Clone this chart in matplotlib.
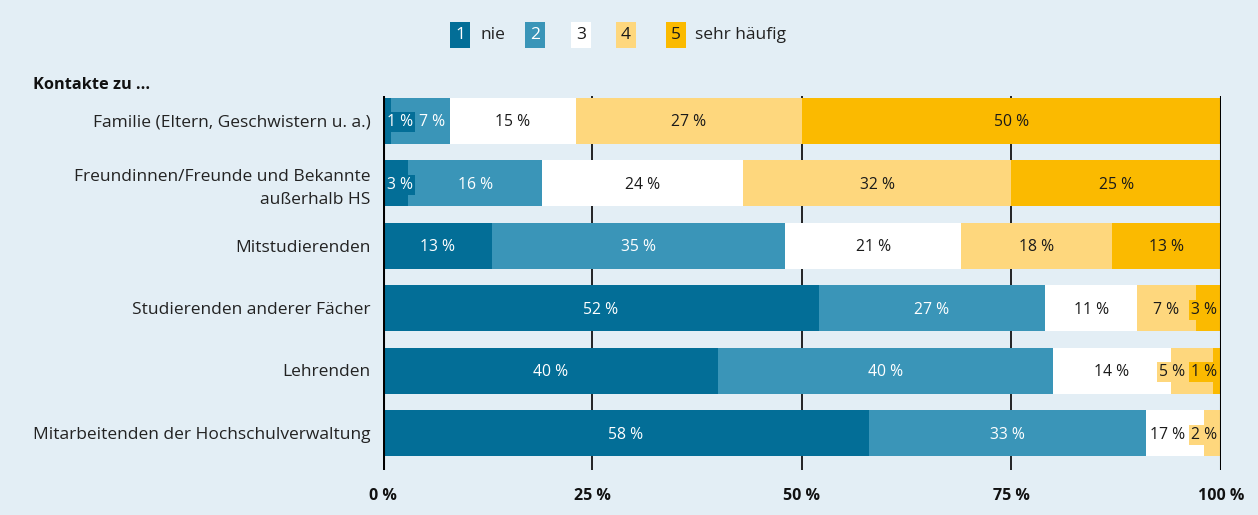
import matplotlib
matplotlib.use("Agg")
import matplotlib.pyplot as plt
import numpy as np

categories = [
    "Familie (Eltern, Geschwistern u. a.)",
    "Freundinnen/Freunde und Bekannte\naußerhalb HS",
    "Mitstudierenden",
    "Studierenden anderer Fächer",
    "Lehrenden",
    "Mitarbeitenden der Hochschulverwaltung",
]
s1 = [1, 3, 13, 52, 40, 58]
s2 = [7, 16, 35, 27, 40, 33]
s3 = [15, 24, 21, 11, 14, 7]
s4 = [27, 32, 18, 7, 5, 2]
s5 = [50, 25, 13, 3, 1, 0]
# label texts as printed in the original (one label differs from its bar width)
l3_text = ["15 %", "24 %", "21 %", "11 %", "14 %", "17 %"]
legend_codes = ["1", "2", "3", "4", "5"]
legend_words = {"1": "nie", "5": "sehr häufig"}
xticks = [0, 25, 50, 75, 100]
xticklabels = ["0 %", "25 %", "50 %", "75 %", "100 %"]

colors = ["#036e97", "#3a95b8", "#ffffff", "#fed77d", "#fbba00"]
txtcol = ["white", "white", "#1a1a1a", "#1a1a1a", "#1a1a1a"]
bg = "#e3eef5"

plt.rcParams['font.family'] = ['Open Sans', 'DejaVu Sans']

fig = plt.figure(figsize=(12.58, 5.15), dpi=100, facecolor=bg)
ax = fig.add_axes([383/1258, 1-470/515, (1221-383)/1258, (470-96)/515])
ax.set_facecolor(bg)

series = [s1, s2, s3, s4, s5]
n = len(categories)
ypos = np.arange(n)
left = np.zeros(n)
lefts = []
for k, s in enumerate(series):
    ax.barh(ypos, s, left=left, height=0.736, color=colors[k], zorder=2, linewidth=0)
    lefts.append(left.copy())
    left = left + np.array(s)

ax.set_xlim(0, 100)
ax.set_ylim(5.592, -0.392)
for x in [25, 50, 75]:
    ax.axvline(x, color="black", lw=1.2, zorder=1)
for x in [0, 100]:
    ax.axvline(x, color="black", lw=2.2, zorder=6)

for sp in ax.spines.values():
    sp.set_visible(False)
ax.set_xticks(xticks)
ax.set_xticklabels(xticklabels, fontweight="bold", fontsize=11.5, color="#111111")
ax.tick_params(axis="x", length=0, pad=13)
ax.set_yticks(ypos)
ax.set_yticklabels(categories, fontsize=12.5, color="#222222", linespacing=1.55)
ax.tick_params(axis="y", length=0, pad=9)

# labels
fig.canvas.draw()
renderer = fig.canvas.get_renderer()
inv = ax.transData.inverted()
bpad = 1.5
pad_data = (bpad / 72 * fig.dpi) / ((1221 - 383) / 100)
for i in range(n):
    items = []
    for k, s in enumerate(series):
        v = s[i]
        if v <= 0:
            continue
        txt = l3_text[i] if k == 2 else f"{v} %"
        t = ax.text(lefts[k][i] + v/2, i + 0.03, txt, ha="center", va="center",
                    fontsize=11.3, color=txtcol[k], zorder=5,
                    bbox=dict(facecolor=colors[k], edgecolor="none", pad=bpad))
        items.append([t, lefts[k][i] + v/2])
    ws = []
    for t, c in items:
        bb = t.get_window_extent(renderer)
        x0 = inv.transform((bb.x0, 0))[0]
        x1 = inv.transform((bb.x1, 0))[0]
        ws.append(x1 - x0 + 2 * pad_data)
    starts = [c - w/2 for (t, c), w in zip(items, ws)]
    gap = 0.2
    starts = [max(st, 0.2) for st in starts]
    starts = [min(st, 99.8 - w) for st, w in zip(starts, ws)]
    for j in range(1, len(starts)):
        if starts[j] < starts[j-1] + ws[j-1] + gap:
            starts[j] = starts[j-1] + ws[j-1] + gap
    for j in range(len(starts) - 1, -1, -1):
        lim = 99.8 if j == len(starts) - 1 else starts[j+1] - gap
        if starts[j] + ws[j] > lim:
            starts[j] = lim - ws[j]
    for (t, c), st, w in zip(items, starts, ws):
        t.set_x(st + w/2)

fig.text(33/1258, 1-85/515, "Kontakte zu …", fontsize=11.8, fontweight="bold",
         ha="left", va="center", color="#111111")

# legend
box_x = [460, 535, 581, 626, 676]
word_x = {"1": 480, "5": 695}
ly = 1 - 35/515
for k, code in enumerate(legend_codes):
    fig.text(box_x[k]/1258, ly, code, ha="center", va="center", fontsize=12.5,
             color=txtcol[k],
             bbox=dict(facecolor=colors[k], edgecolor="none",
                       boxstyle="square,pad=0.3"))
    if code in legend_words:
        fig.text(word_x[code]/1258, ly, legend_words[code], ha="left", va="center",
                 fontsize=12.5, color="#222222")

fig.savefig("out.png", dpi=100, facecolor=bg)
